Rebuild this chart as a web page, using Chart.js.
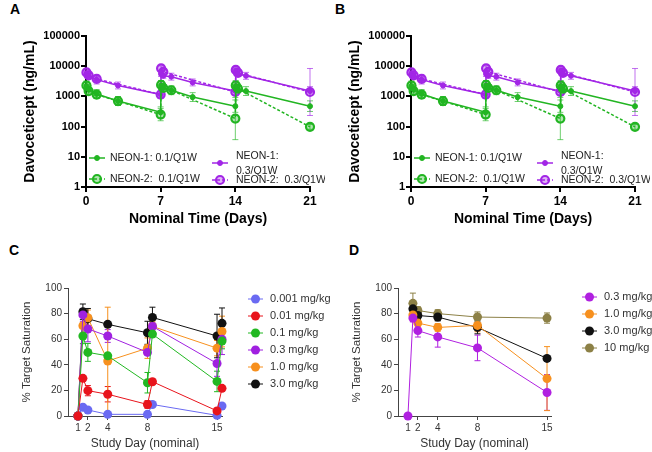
<!DOCTYPE html>
<html>
<head>
<meta charset="utf-8">
<script src="https://cdn.jsdelivr.net/npm/chart.js@4.4.1/dist/chart.umd.min.js"></script>
<style>
  body { margin: 0; background: #fff; width: 652px; height: 452px; position: relative; overflow: hidden;
         font-family: "Liberation Sans", Arial, sans-serif; }
  .box { position: absolute; }
  .tag { position: absolute; font-weight: bold; font-size: 14px; color: #000; }
</style>
</head>
<body>
<div class="tag" style="left:10px;top:1px">A</div>
<div class="tag" style="left:335px;top:1px">B</div>
<div class="tag" style="left:9px;top:242px">C</div>
<div class="tag" style="left:349px;top:242px">D</div>

<div class="box" style="left:0;top:0;width:325px;height:228px"><canvas id="chartA"></canvas></div>
<div class="box" style="left:325px;top:0;width:325px;height:228px"><canvas id="chartB"></canvas></div>
<div class="box" style="left:0;top:230px;width:330px;height:222px"><canvas id="chartC"></canvas></div>
<div class="box" style="left:330px;top:230px;width:322px;height:222px"><canvas id="chartD"></canvas></div>

<script>
'use strict';

const FONT = '"Liberation Sans", Arial, sans-serif';

// ---- panels A / B : concentration (log scale) ----
const pkLabels = ['NEON-1: 0.1/Q1W', 'NEON-2:  0.1/Q1W', 'NEON-1: 0.3/Q1W', 'NEON-2:  0.3/Q1W'];
const pkTicksX = [0, 7, 14, 21];
const pkTicksY = [1, 10, 100, 1000, 10000, 100000];

const n1LowDays = [0.04, 0.25, 1, 3, 7, 7.04, 7.25, 8, 10, 14, 14.04, 14.25, 15, 21];
const n1LowConc = [2200, 1700, 1200, 700, 300, 2300, 1900, 1600, 950, 475, 2200, 1700, 1500, 475];
const n1LowErr  = [1.3, 1.3, 1.4, 1.4, 1.5, 1.4, 1.3, 1.4, 1.4, 1.6, 1.5, 1.3, 1.4, 1.5];

const n2LowDays = [0.04, 0.25, 1, 3, 7, 7.04, 7.25, 8, 14, 14.04, 14.25, 21];
const n2LowConc = [2300, 1500, 1150, 700, 250, 2400, 1900, 1600, 185, 2300, 1800, 98];
const n2LowErr  = [1.4, 1.3, 1.3, 1.4, 1.6, 1.4, 1.3, 1.3, 5, 1.4, 1.3, 1.2];

const n1HighDays = [0.04, 0.25, 1, 3, 7, 7.04, 7.25, 8, 10, 14, 14.04, 14.25, 15, 21];
const n1HighConc = [5700, 4800, 3600, 2300, 1150, 5500, 4800, 4500, 2900, 1500, 7000, 5500, 4800, 1500];
const n1HighErr  = [1.2, 1.2, 1.4, 1.3, 1.3, 1.2, 1.2, 1.3, 1.3, 1.3, 1.2, 1.2, 1.3, 1.4];

const n2HighDays = [0.04, 0.25, 1, 7, 7.04, 7.25, 14, 14.04, 14.25, 21];
const n2HighConc = [6200, 5000, 3800, 1150, 8500, 6500, 1400, 7500, 6000, 1400];
const n2HighErr  = [1.2, 1.2, 1.2, 1.3, 1.2, 1.2, 1.3, 1.2, 1.2, 6];

// ---- panel C : target saturation, 6 doses ----
const satDaysC = [1, 1.5, 2, 4, 8, 8.5, 15, 15.5];
const satTicks = [1, 2, 4, 8, 15];
const doseLabelsC = ['0.001 mg/kg', '0.01 mg/kg', '0.1 mg/kg', '0.3 mg/kg', '1.0 mg/kg', '3.0 mg/kg'];
const satC0001 = [0, 6.8, 4.7, 1.3, 1.3, 9, 0.5, 7.8];
const satC001  = [0, 29.4, 19.8, 17, 9, 26.8, 4, 21.6];
const satC01   = [0, 62.5, 49.7, 47, 26, 64, 27, 58.5];
const satC03   = [0, 79, 68, 62.5, 49.7, 70, 41, 60];
const satC10   = [0, 70.5, 76.8, 43, 53, 70, 53, 66];
const satC30   = [0, 81.5, 76, 71.6, 65, 77, 62.5, 72.4];
const sdC0001 = [0, 1, 1, 0.5, 0.5, 1, 0.5, 1];
const sdC001  = [0, 2, 4, 6, 3, 2, 2, 2];
const sdC01   = [0, 6, 7, 2, 8, 2, 8, 6];
const sdC03   = [0, 5, 10, 5, 2, 3, 10, 12];
const sdC10   = [0, 7, 6, 42, 8, 4, 6, 12];
const sdC30   = [0, 6, 8, 2, 9, 8, 17, 12];

// ---- panel D : target saturation, 4 doses ----
const satDaysD = [1, 1.5, 2, 4, 8, 15];
const doseLabelsD = ['0.3 mg/kg', '1.0 mg/kg', '3.0 mg/kg', '10 mg/kg'];
const satD03 = [0, 76.5, 66.7, 61.8, 53.2, 18.4];
const satD10 = [null, 79, 72.6, 69.2, 70.8, 29.2];
const satD30 = [null, 83.7, 78.5, 77.3, 69.2, 45];
const satD100 = [null, 88, 82.4, 80, 77.3, 76.5];
const sdD03 = [0, 3, 5, 8, 10, 14];
const sdD10 = [0, 3, 3, 3, 5, 25];
const sdD30 = [0, 4, 3, 3, 5, 2];
const sdD100 = [0, 8, 3, 3, 4, 4];

const pts = (xs, ys) => xs.map((x, i) => ({ x: x, y: ys[i] }));

// vertical error bars, drawn under the points
const errorBars = {
  id: 'errorBars',
  beforeDatasetsDraw(chart) {
    const { ctx } = chart;
    const xs = chart.scales.x, ys = chart.scales.y;
    const isLog = ys.type === 'logarithmic';
    ctx.save();
    chart.data.datasets.forEach(ds => {
      if (!ds.err) return;
      ctx.strokeStyle = ds.errColor || ds.borderColor;
      ctx.lineWidth = 1;
      ctx.setLineDash([]);
      ds.data.forEach((p, j) => {
        const e = ds.err[j];
        if (p.y == null || !e) return;
        const lo = isLog ? p.y / e : Math.max(0, p.y - e);
        const hi = isLog ? p.y * e : p.y + e;
        const px = xs.getPixelForValue(p.x);
        const y1 = ys.getPixelForValue(lo), y2 = ys.getPixelForValue(hi);
        ctx.beginPath();
        ctx.moveTo(px, y1); ctx.lineTo(px, y2);
        ctx.moveTo(px - 3, y1); ctx.lineTo(px + 3, y1);
        ctx.moveTo(px - 3, y2); ctx.lineTo(px + 3, y2);
        ctx.stroke();
      });
    });
    ctx.restore();
  }
};

// legend entries with a line + marker, placed freely
const freeLegend = {
  id: 'freeLegend',
  afterDraw(chart, args, opts) {
    if (!opts.items) return;
    const ctx = chart.ctx;
    ctx.save();
    ctx.font = opts.font;
    ctx.textBaseline = 'middle';
    opts.items.forEach(it => {
      const ds = chart.data.datasets[it.ds];
      const w = opts.lineLen;
      ctx.strokeStyle = ds.borderColor;
      ctx.lineWidth = ds.borderWidth;
      ctx.setLineDash(ds.borderDash || []);
      ctx.beginPath();
      ctx.moveTo(it.x, it.y); ctx.lineTo(it.x + w, it.y);
      ctx.stroke();
      ctx.setLineDash([]);
      ctx.beginPath();
      ctx.arc(it.x + w / 2, it.y, ds.pointRadius, 0, Math.PI * 2);
      ctx.fillStyle = ds.pointBackgroundColor;
      ctx.fill();
      if (ds.pointBorderWidth) {
        ctx.lineWidth = ds.pointBorderWidth;
        ctx.stroke();
      }
      let lines = [ds.label];
      if (it.wrap) {
        const parts = ds.label.split(': ');
        lines = [parts[0] + ':', parts.slice(1).join(': ')];
      }
      ctx.fillStyle = opts.color;
      lines.forEach((t, k) => {
        ctx.fillText(t, it.tx != null ? it.tx : it.x + w + opts.gap, (it.ty != null ? it.ty : it.y) + k * opts.lineH);
      });
    });
    ctx.restore();
  }
};

Chart.register(errorBars, freeLegend);

const green = '#22b522';
const purple = '#a226e6';

function pkChart(id) {
  const solid = (label, xs, ys, err, col, errCol) => ({
    label: label, data: pts(xs, ys), err: err, errColor: errCol, clip: false,
    borderColor: col, backgroundColor: col, pointBackgroundColor: col, pointBorderColor: col,
    borderWidth: 1.5, pointRadius: 2.5, pointBorderWidth: 1
  });
  const dashed = (label, xs, ys, err, col, errCol, fillCol) => ({
    label: label, data: pts(xs, ys), err: err, errColor: errCol, clip: false,
    borderColor: col, backgroundColor: col, pointBackgroundColor: fillCol, pointBorderColor: col,
    borderWidth: 1.5, borderDash: [3, 2], pointRadius: 4, pointBorderWidth: 2.2
  });
  return new Chart(document.getElementById(id), {
    type: 'line',
    data: {
      datasets: [
        solid(pkLabels[0], n1LowDays, n1LowConc, n1LowErr, green, 'rgba(34,181,34,0.65)'),
        dashed(pkLabels[1], n2LowDays, n2LowConc, n2LowErr, green, 'rgba(34,181,34,0.65)', 'rgba(34,181,34,0.35)'),
        solid(pkLabels[2], n1HighDays, n1HighConc, n1HighErr, purple, 'rgba(162,38,230,0.65)'),
        dashed(pkLabels[3], n2HighDays, n2HighConc, n2HighErr, purple, 'rgba(162,38,230,0.65)', 'rgba(162,38,230,0.35)')
      ]
    },
    options: {
      responsive: true,
      maintainAspectRatio: false,
      animation: false,
      layout: { padding: { top: 36, right: 15, left: 0, bottom: 0 } },
      plugins: {
        legend: { display: false },
        tooltip: { enabled: false },
        freeLegend: {
          font: '10.5px ' + FONT, color: '#222', lineLen: 16, gap: 5, lineH: 15,
          items: [
            { ds: 0, x: 89, y: 158, tx: 110 },
            { ds: 1, x: 89, y: 179, tx: 110 },
            { ds: 2, x: 212, y: 163, tx: 236, ty: 156, wrap: true },
            { ds: 3, x: 212, y: 180, tx: 236 }
          ]
        }
      },
      scales: {
        x: {
          type: 'linear', min: 0, max: 21,
          afterBuildTicks: s => { s.ticks = pkTicksX.map(v => ({ value: v })); },
          afterFit: s => { s.height = 41; s.paddingLeft = 0; s.paddingRight = 0; },
          grid: { drawOnChartArea: false, color: '#000', lineWidth: 2, tickLength: 5 },
          border: { color: '#000', width: 2 },
          ticks: { color: '#000', padding: 2, maxRotation: 0, font: { size: 12, weight: 'bold', family: FONT } },
          title: { display: true, text: 'Nominal Time (Days)', color: '#000',
                   font: { size: 14, weight: 'bold', family: FONT }, padding: { top: 0, bottom: 0 } }
        },
        y: {
          type: 'logarithmic', min: 1, max: 100000,
          afterBuildTicks: s => { s.ticks = pkTicksY.map(v => ({ value: v, major: true })); },
          afterFit: s => { s.width = 86; s.paddingTop = 0; s.paddingBottom = 0; },
          grid: { drawOnChartArea: false, color: '#000', lineWidth: 2, tickLength: 5 },
          border: { color: '#000', width: 2 },
          ticks: { color: '#000', padding: 1, font: { size: 11, weight: 'bold', family: FONT },
                   callback: v => String(v) },
          title: { display: true, text: 'Davoceticept (ng/mL)', color: '#000',
                   font: { size: 14, weight: 'bold', family: FONT }, padding: { top: 22, bottom: 0 } }
        }
      }
    }
  });
}

function satChart(id, days, labels, series, sds, colors, xMax, padRight, legendX, legendY, drawOrder) {
  const datasets = series.map((s, i) => ({
    label: labels[i], data: pts(days, s), err: sds[i], clip: false,
    borderColor: colors[i], backgroundColor: colors[i], pointBackgroundColor: colors[i], pointBorderColor: colors[i],
    borderWidth: 1, pointRadius: 4.5, pointBorderWidth: 0, spanGaps: false,
    order: drawOrder ? drawOrder[i] : 0
  }));
  return new Chart(document.getElementById(id), {
    type: 'line',
    data: { datasets: datasets },
    options: {
      responsive: true,
      maintainAspectRatio: false,
      animation: false,
      layout: { padding: { top: 58, right: padRight, left: 0, bottom: 0 } },
      plugins: {
        legend: { display: false },
        tooltip: { enabled: false },
        freeLegend: {
          font: '11px ' + FONT, color: '#333', lineLen: 15, gap: 7, lineH: 13,
          items: labels.map((l, i) => ({ ds: i, x: legendX, y: legendY + 17 * i }))
        }
      },
      scales: {
        x: {
          type: 'linear', min: 0, max: xMax,
          afterBuildTicks: s => { s.ticks = satTicks.map(v => ({ value: v })); },
          afterFit: s => { s.height = 36; s.paddingLeft = 0; s.paddingRight = 0; },
          grid: { drawOnChartArea: false, color: '#444', lineWidth: 1, tickLength: 4 },
          border: { color: '#444', width: 1 },
          ticks: { color: '#333', padding: 2, maxRotation: 0, font: { size: 10, family: FONT } },
          title: { display: true, text: 'Study Day (nominal)', color: '#333',
                   font: { size: 12, family: FONT }, padding: { top: 0, bottom: 1 } }
        },
        y: {
          min: 0, max: 100,
          ticks: { stepSize: 20, color: '#333', padding: 2, font: { size: 10, family: FONT } },
          afterFit: s => { s.width = 68; s.paddingTop = 0; s.paddingBottom = 0; },
          grid: { drawOnChartArea: false, color: '#444', lineWidth: 1, tickLength: 4 },
          border: { color: '#444', width: 1 },
          title: { display: true, text: '% Target Saturation', color: '#333',
                   font: { size: 11.5, family: FONT }, padding: { top: 20, bottom: 0 } }
        }
      }
    }
  });
}

pkChart('chartA');
pkChart('chartB');

satChart('chartC', satDaysC, doseLabelsC,
  [satC0001, satC001, satC01, satC03, satC10, satC30],
  [sdC0001, sdC001, sdC01, sdC03, sdC10, sdC30],
  ['#6a6af2', '#e8141c', '#22b822', '#a020e0', '#f7901e', '#111111'],
  15.5, 108, 248, 69, [1, -1, 1, 1, 1, 1]);

satChart('chartD', satDaysD, doseLabelsD,
  [satD03, satD10, satD30, satD100],
  [sdD03, sdD10, sdD30, sdD100],
  ['#b020e0', '#f7901e', '#111111', '#8c8046'],
  15.4, 101, 252, 67);
</script>
</body>
</html>
